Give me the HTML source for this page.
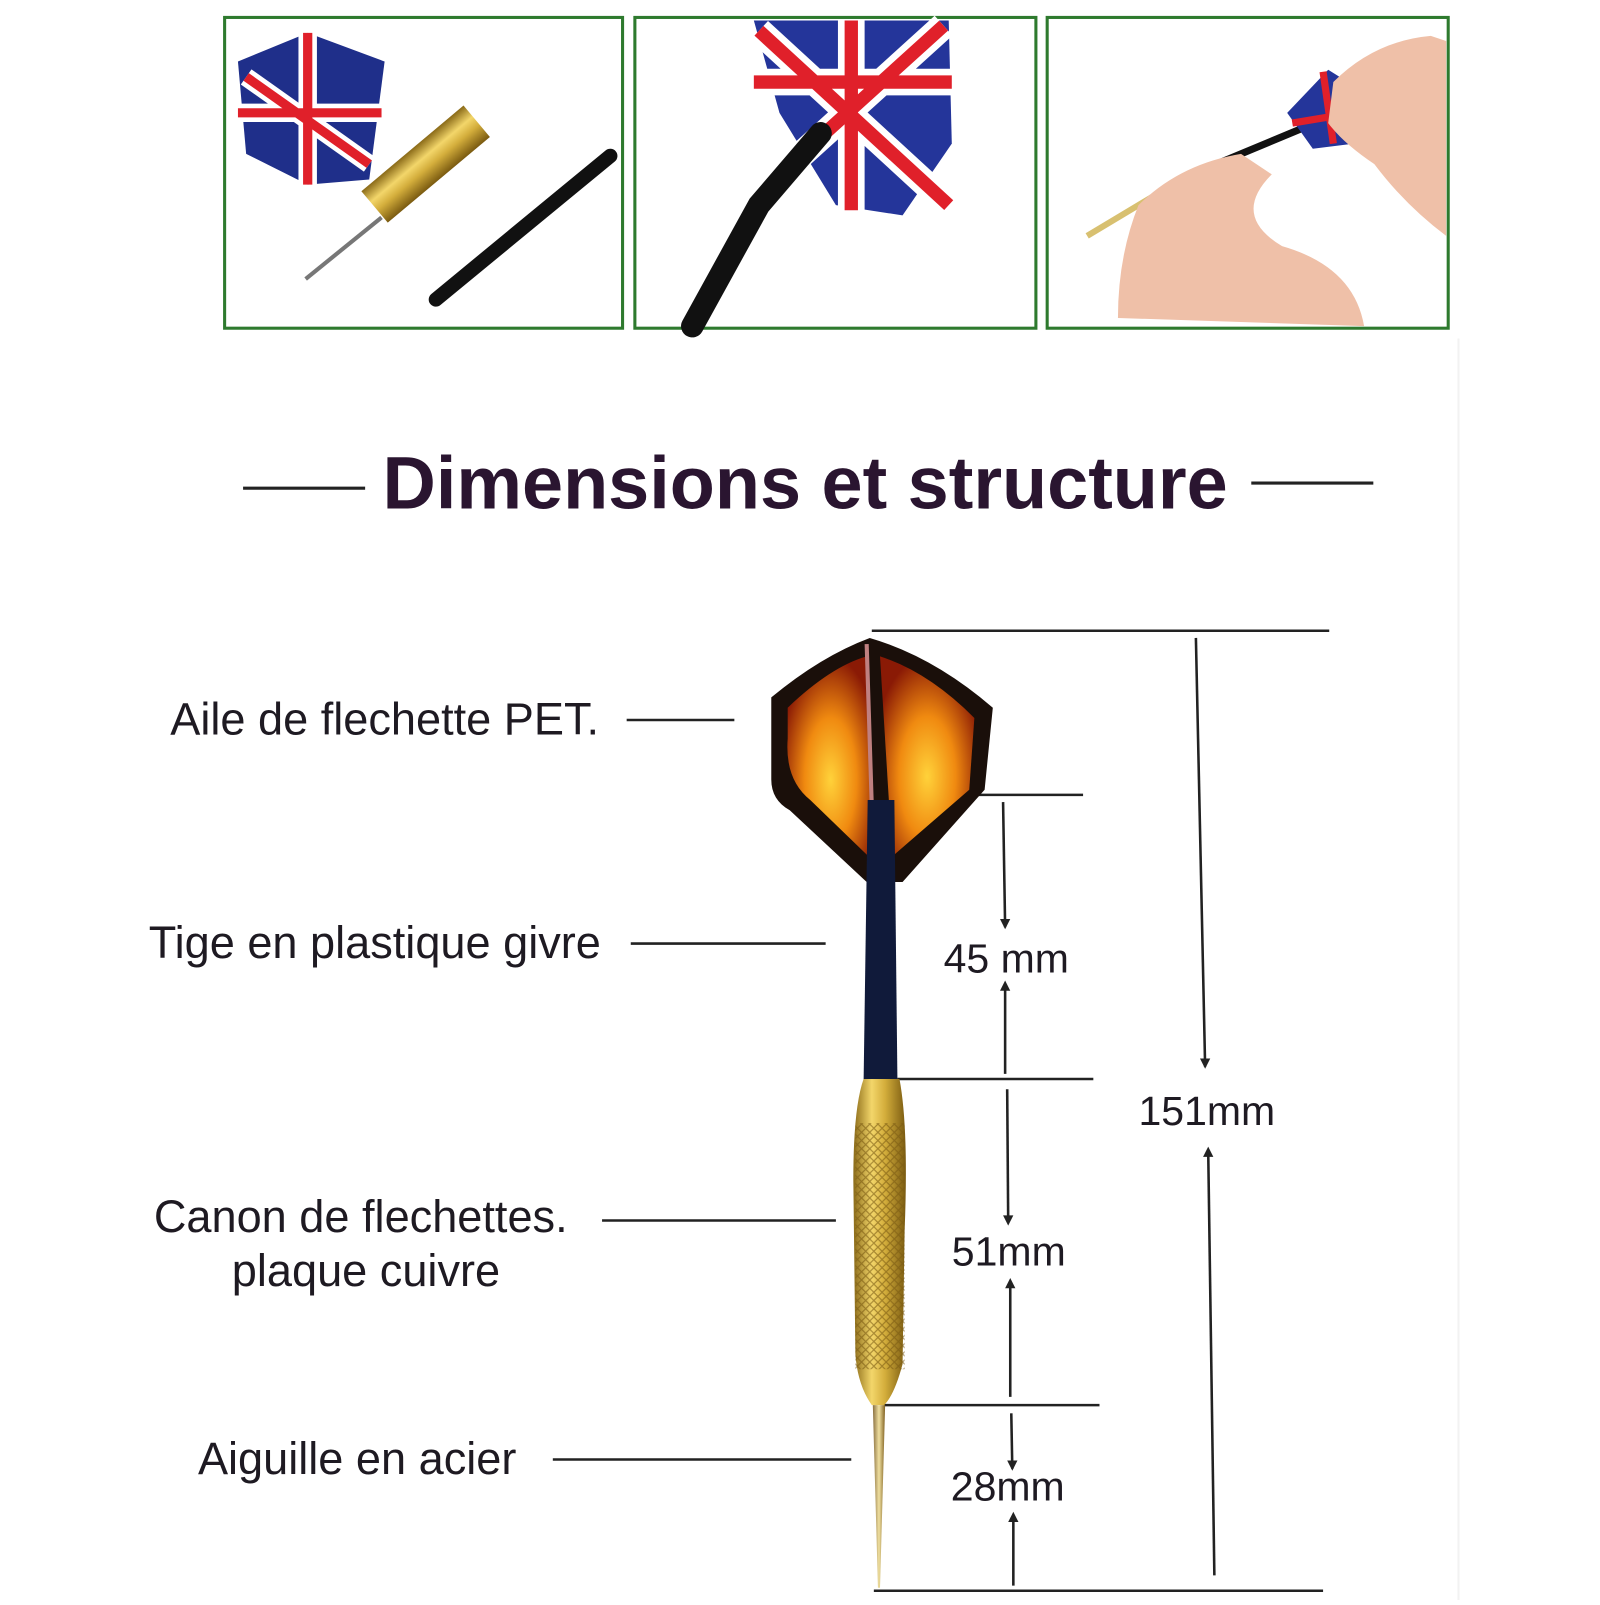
<!DOCTYPE html>
<html><head><meta charset="utf-8"><style>
html,body{margin:0;padding:0;background:#fff}
body{width:1600px;height:1600px;overflow:hidden;position:relative;font-family:"Liberation Sans",sans-serif}
</style></head><body>
<svg width="1600" height="1600" viewBox="0 0 1560 1560" xmlns="http://www.w3.org/2000/svg">
<defs>
<linearGradient id="gold" x1="0" x2="1" y1="0" y2="0">
<stop offset="0" stop-color="#8a6a18"/><stop offset="0.35" stop-color="#f3d66a"/><stop offset="0.6" stop-color="#d4ae3c"/><stop offset="1" stop-color="#7a5a10"/></linearGradient>
<linearGradient id="steel" x1="0" x2="1"><stop offset="0" stop-color="#8a7040"/><stop offset=".5" stop-color="#f0e0a0"/><stop offset="1" stop-color="#806020"/></linearGradient>
<pattern id="knurl" width="8" height="8" patternUnits="userSpaceOnUse"><path d="M0 0L8 8M8 0L0 8" stroke="#7a5a12" stroke-width="1.2" opacity=".6"/></pattern>
<radialGradient id="fire" cx="0.5" cy="0.6" r="0.6"><stop offset="0" stop-color="#ffd23a"/><stop offset=".5" stop-color="#f08a10"/><stop offset="1" stop-color="#8a1a05"/></radialGradient>
</defs>
<g fill="#fff" stroke="#2e7a2e" stroke-width="3">
<rect x="219" y="17" width="388" height="303"/>
<rect x="619" y="17" width="391" height="303"/>
<rect x="1021" y="17" width="391" height="303"/>
</g>
<g>
<path d="M232 60 L300 32 L375 60 L360 175 L300 180 L240 150 Z" fill="#1f2f8a"/>
<path d="M240 75 L360 160 M300 32 L300 180 M232 110 L372 110" stroke="#fff" stroke-width="18"/>
<path d="M240 75 L360 160 M300 32 L300 180 M232 110 L372 110" stroke="#e0202a" stroke-width="9"/>
<rect x="395" y="95" width="40" height="130" transform="rotate(50 415 160)" fill="url(#gold)"/>
<line x1="372" y1="212" x2="298" y2="272" stroke="#777" stroke-width="4"/>
<line x1="595" y1="152" x2="425" y2="292" stroke="#111" stroke-width="14" stroke-linecap="round"/>
</g>
<g>
<path d="M735 20 L925 20 L928 140 L880 210 L815 200 L760 110 Z" fill="#24359a"/>
<path d="M740 30 L925 200 M830 20 L830 205 M735 80 L928 80 M920 25 L760 170" stroke="#fff" stroke-width="26"/>
<path d="M740 30 L925 200 M830 20 L830 205 M735 80 L928 80 M920 25 L760 170" stroke="#e0202a" stroke-width="13"/>
<path d="M800 130 L740 200 L675 318" stroke="#111" stroke-width="22" fill="none" stroke-linecap="round"/>
</g>
<g>
<path d="M1060 230 L1160 170" stroke="#d8c070" stroke-width="6"/>
<path d="M1150 175 L1270 125" stroke="#111" stroke-width="7"/>
<path d="M1255 110 L1295 68 L1330 90 L1320 140 L1280 145 Z" fill="#24359a"/>
<path d="M1260 120 L1320 110 M1290 70 L1300 140" stroke="#e0202a" stroke-width="7"/>
<path d="M1090 310 Q1090 250 1110 200 Q1150 160 1210 150 L1240 170 Q1200 210 1250 240 Q1320 260 1330 318 Z" fill="#efc0a8"/>
<path d="M1300 80 Q1340 40 1395 35 L1410 40 L1410 230 Q1370 200 1340 160 Q1310 140 1295 120 Z" fill="#efc0a8"/>
</g>
<line x1="237" y1="476" x2="356" y2="476" stroke="#222" stroke-width="3"/>
<line x1="1220" y1="471" x2="1339" y2="471" stroke="#222" stroke-width="3"/>
<text x="785" y="496" text-anchor="middle" font-family="Liberation Sans" font-weight="bold" font-size="72" fill="#2a1530">Dimensions et structure</text>
<g font-family="Liberation Sans" font-size="44" fill="#1e1a22">
<text x="166" y="716">Aile de flechette PET.</text>
<text x="145" y="934">Tige en plastique givre</text>
<text x="150" y="1201">Canon de flechettes.</text>
<text x="226" y="1254">plaque cuivre</text>
<text x="193" y="1437">Aiguille en acier</text>
</g>
<g font-family="Liberation Sans" font-size="40" fill="#1e1a22">
<text x="920" y="948">45 mm</text>
<text x="928" y="1234">51mm</text>
<text x="927" y="1463">28mm</text>
<text x="1110" y="1097">151mm</text>
</g>
<g stroke="#222" stroke-width="2.5" fill="none">
<line x1="611" y1="702" x2="716" y2="702"/>
<line x1="615" y1="920" x2="805" y2="920"/>
<line x1="587" y1="1190" x2="815" y2="1190"/>
<line x1="539" y1="1423" x2="830" y2="1423"/>
<line x1="850" y1="615" x2="1296" y2="615"/>
<line x1="862" y1="775" x2="1056" y2="775"/>
<line x1="875" y1="1052" x2="1066" y2="1052"/>
<line x1="862" y1="1370" x2="1072" y2="1370"/>
<line x1="852" y1="1551" x2="1290" y2="1551"/>
<line x1="1166" y1="622" x2="1175" y2="1040"/>
<line x1="1178" y1="1122" x2="1184" y2="1536"/>
<line x1="978" y1="782" x2="980" y2="904"/>
<line x1="980" y1="960" x2="980" y2="1047"/>
<line x1="982" y1="1062" x2="983" y2="1192"/>
<line x1="985" y1="1250" x2="985" y2="1362"/>
<line x1="986" y1="1378" x2="987" y2="1432"/>
<line x1="988" y1="1478" x2="988" y2="1546"/>
</g>
<g fill="#222">
<path d="M1175 1042 l-5 -10 h10z"/><path d="M1178 1118 l-5 10 h10z"/>
<path d="M980 906 l-5 -10 h10z"/><path d="M980 956 l-5 10 h10z"/>
<path d="M983 1195 l-5 -10 h10z"/><path d="M985 1246 l-5 10 h10z"/>
<path d="M987 1434 l-5 -10 h10z"/><path d="M988 1474 l-5 10 h10z"/>
</g>
<path d="M752 680 Q800 640 848 622 Q910 640 968 690 L960 770 L880 860 L845 860 L770 790 Q752 780 752 760 Z" fill="#1a0f0a"/>
<path d="M768 690 Q810 650 845 640 L852 840 L790 780 Q765 760 768 720 Z" fill="url(#fire)"/>
<path d="M858 640 Q905 655 950 700 L945 770 L870 835 Z" fill="url(#fire)"/>
<path d="M845 628 L852 850" stroke="#c08080" stroke-width="4"/>
<path d="M846 780 L872 780 L875 1055 L842 1055 Z" fill="#101a3a"/>
<path d="M842 1052 L877 1052 Q886 1100 882 1200 L880 1330 Q872 1360 862 1370 L850 1370 Q836 1350 834 1320 L832 1150 Q832 1080 842 1052Z" fill="url(#gold)"/>
<rect x="834" y="1095" width="48" height="240" fill="url(#knurl)"/>
<path d="M851 1370 L863 1370 L858 1548 L856 1548 Z" fill="url(#steel)"/>
<line x1="1422" y1="330" x2="1422" y2="1560" stroke="#f2f2f2" stroke-width="2"/>
</svg>
</body></html>
